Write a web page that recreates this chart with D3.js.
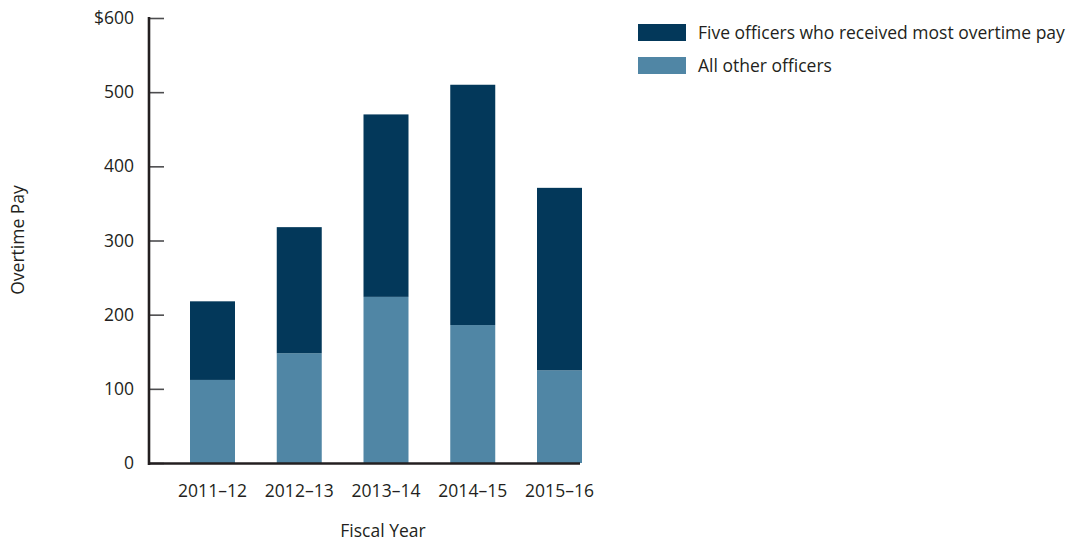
<!DOCTYPE html>
<html><head><meta charset="utf-8">
<script src="https://cdn.jsdelivr.net/npm/d3@7"></script>
<style>
html,body{margin:0;padding:0;background:#fff;}
svg text{font-family:"Open Sans","Noto Sans",sans-serif;fill:#231f20;}
</style></head>
<body><svg id="c" width="1073" height="544"></svg>
<script>
const categories = ["2011\u201312","2012\u201313","2013\u201314","2014\u201315","2015\u201316"];
const otherOfficers = [112,148,224,186,125];
const topFive = [106,170,246,324,246];
const seriesNames = ["Five officers who received most overtime pay","All other officers"];
const yTicks = [0,100,200,300,400,500,600];
const colors = {top:"#03385a", other:"#5086a5"};

const svg = d3.select("#c");
const y = d3.scaleLinear().domain([0,600]).range([463,18]);
const x = d3.scaleBand().domain(categories).range([149,623]).paddingInner(0.4813).paddingOuter(0.4726);

const data = categories.map((c,i)=>({cat:c, other:otherOfficers[i], top:topFive[i]}));
const stack = d3.stack().keys(["other","top"])(data);

svg.append("g").selectAll("g").data(stack).join("g")
  .attr("fill", d=> d.key==="top"?colors.top:colors.other)
  .selectAll("rect").data(d=>d).join("rect")
  .attr("x", d=>x(d.data.cat))
  .attr("width", x.bandwidth())
  .attr("y", d=>y(d[1]))
  .attr("height", d=>y(d[0])-y(d[1]));

// y axis
const ya = svg.append("g").attr("transform","translate(149,0)")
  .call(d3.axisLeft(y).tickValues(yTicks).tickSize(-15).tickPadding(15)
    .tickFormat(d=> d===600?"$600":String(d)));
ya.select(".domain").remove();
ya.selectAll(".tick line").attr("stroke","#4d4d4f").attr("stroke-width",1.6);
ya.selectAll(".tick text").style("font-size","17.5px").attr("fill","#231f20");
svg.append("line").attr("x1",149).attr("x2",149).attr("y1",y(600)-1).attr("y2",y(0)+2)
  .attr("stroke","#231f20").attr("stroke-width",2.6);

// x axis
const xa = svg.append("g").attr("transform","translate(0,463)")
  .call(d3.axisBottom(x).tickSize(0).tickPadding(22));
xa.select(".domain").remove();
xa.selectAll(".tick text").style("font-size","17.5px").attr("fill","#231f20");
svg.append("line").attr("x1",148).attr("x2",580).attr("y1",463.5).attr("y2",463.5)
  .attr("stroke","#231f20").attr("stroke-width",2.6);

// axis titles
svg.append("text").attr("x",383).attr("y",537).attr("text-anchor","middle")
  .style("font-size","17.5px").text("Fiscal Year");
svg.append("text").attr("transform","translate(24,240) rotate(-90)").attr("text-anchor","middle")
  .style("font-size","17.5px").text("Overtime Pay");

// legend
const leg = svg.append("g");
const legItems = [{name:seriesNames[0], color:colors.top},{name:seriesNames[1], color:colors.other}];
leg.selectAll("rect").data(legItems).join("rect")
  .attr("x",638).attr("y",(d,i)=>24+i*33).attr("width",48).attr("height",17).attr("fill",d=>d.color);
leg.selectAll("text").data(legItems).join("text")
  .attr("x",698).attr("y",(d,i)=>39+i*33).style("font-size","17.5px").text(d=>d.name);
</script></body></html>
